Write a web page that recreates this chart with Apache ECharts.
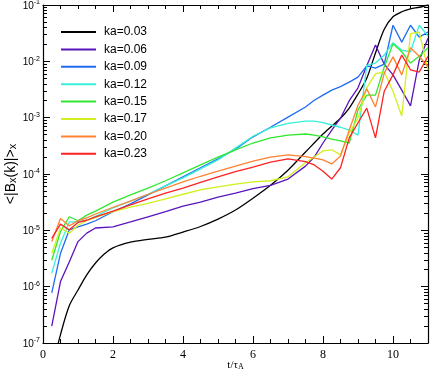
<!DOCTYPE html>
<html><head><meta charset="utf-8">
<script src="https://cdn.jsdelivr.net/npm/echarts@6/dist/echarts.min.js"></script>
<style>html,body{margin:0;padding:0;background:#fff}#c{width:436px;height:381px}</style>
</head><body><div id="c"></div>
<script>
// ---- data ----
const seriesNames = ['ka=0.03','ka=0.06','ka=0.09','ka=0.12','ka=0.15','ka=0.17','ka=0.20','ka=0.23'];
const seriesColors = ['#000000','#5a14bc','#1f6cf2','#36f0dc','#2fe82f','#d2f020','#ff8232','#ff2222'];

const tBlack = [0.25,0.5,0.75,1,1.25,1.5,1.75,2,2.5,3,3.5,4,4.5,5,5.5,6,6.5,7,7.5,8,8.5,8.75,9,9.25,9.5,9.75,10,10.25,10.5,10.75,11];
const ka003 = [3.4e-8,1.41e-7,4.57e-7,8.71e-7,1.62e-6,2.63e-6,3.80e-6,4.90e-6,6.17e-6,6.92e-6,7.59e-6,9.33e-6,1.17e-5,1.58e-5,2.29e-5,3.72e-5,6.31e-5,1.17e-4,2.45e-4,5.13e-4,9.77e-4,1.48e-3,2.63e-3,5.01e-3,1.41e-2,3.72e-2,6.17e-2,7.59e-2,8.51e-2,9.12e-2,1.0e-1];

const tGrid = [0.25,0.5,0.75,1,1.25,1.5,2,2.5,3,3.5,4,4.5,5,5.5,6,6.5,7,7.5,7.75,8,8.25,8.5,8.75,9,9.25,9.5,9.75,10,10.25,10.5,10.75,11];
const ka006 = [2.0e-7,1.23e-6,2.75e-6,6.31e-6,8.91e-6,1.10e-5,1.15e-5,1.41e-5,1.74e-5,2.14e-5,2.69e-5,3.16e-5,3.89e-5,4.57e-5,5.50e-5,6.31e-5,8.13e-5,1.38e-4,2.0e-4,3.55e-4,6.03e-4,9.77e-4,2.0e-3,3.39e-3,8.32e-3,1.95e-2,8.91e-3,5.75e-3,3.09e-3,1.62e-3,1.05e-2,2.57e-2];
const ka009 = [7.76e-7,3.89e-6,1.02e-5,1.15e-5,1.29e-5,1.48e-5,2.14e-5,2.95e-5,4.27e-5,6.17e-5,8.91e-5,1.29e-4,1.86e-4,2.75e-4,4.57e-4,6.76e-4,1.02e-3,1.55e-3,2.04e-3,2.51e-3,3.09e-3,3.55e-3,4.27e-3,5.25e-3,8.32e-3,7.59e-3,8.91e-3,4.37e-2,2.19e-2,4.37e-2,2.69e-2,3.31e-2];
const ka012 = [1.74e-6,5.89e-6,1.41e-5,1.41e-5,1.51e-5,1.78e-5,2.51e-5,3.31e-5,4.37e-5,6.17e-5,8.51e-5,1.23e-4,1.78e-4,2.88e-4,4.68e-4,6.61e-4,7.94e-4,8.71e-4,8.71e-4,8.13e-4,7.41e-4,6.76e-4,6.03e-4,4.90e-4,8.51e-3,9.33e-3,1.29e-2,2.14e-2,1.58e-2,1.48e-2,4.37e-2,2.82e-2];
const ka015 = [2.95e-6,9.55e-6,1.74e-5,1.48e-5,1.86e-5,2.19e-5,3.16e-5,4.27e-5,5.62e-5,7.59e-5,1.05e-4,1.45e-4,2.0e-4,2.69e-4,3.55e-4,4.37e-4,4.90e-4,5.13e-4,4.90e-4,4.57e-4,4.17e-4,3.89e-4,3.55e-4,1.38e-3,2.51e-3,2.51e-3,7.94e-3,2.04e-2,1.48e-2,9.33e-3,1.23e-2,1.74e-2];
const ka017 = [3.89e-6,1.10e-5,8.91e-6,1.23e-5,1.48e-5,1.70e-5,2.14e-5,2.57e-5,3.02e-5,3.63e-5,4.37e-5,5.25e-5,5.89e-5,6.61e-5,7.24e-5,7.59e-5,8.91e-5,1.58e-4,2.0e-4,2.57e-4,2.69e-4,2.19e-4,5.37e-4,9.77e-4,3.39e-3,6.03e-3,6.46e-3,2.95e-3,1.07e-3,3.09e-2,3.31e-2,7.08e-3];
const ka020 = [6.31e-6,1.62e-5,1.20e-5,1.48e-5,1.66e-5,1.95e-5,2.57e-5,3.31e-5,4.37e-5,5.62e-5,7.24e-5,9.12e-5,1.12e-4,1.38e-4,1.70e-4,2.0e-4,2.19e-4,2.04e-4,1.91e-4,1.78e-4,1.51e-4,2.09e-4,6.03e-4,1.66e-3,3.24e-3,1.55e-3,6.17e-3,1.20e-2,5.75e-3,1.74e-2,1.23e-2,7.94e-3];
const ka023 = [7.2e-6,1.29e-5,1.02e-5,1.38e-5,1.51e-5,1.74e-5,2.19e-5,2.82e-5,3.63e-5,4.57e-5,5.62e-5,7.08e-5,8.91e-5,1.10e-4,1.32e-4,1.62e-4,1.86e-4,1.66e-4,1.45e-4,1.12e-4,8.13e-5,1.29e-4,4.37e-4,8.13e-4,1.48e-3,4.37e-4,2.95e-3,5.75e-3,1.29e-2,7.08e-3,6.46e-3,1.23e-2];

const xMajorTicks = [0,2,4,6,8,10];
const xMinorTicks = [0.5,1,1.5,2.5,3,3.5,4.5,5,5.5,6.5,7,7.5,8.5,9,9.5,10.5];
const yDecades = [-7,-6,-5,-4,-3,-2,-1];

// ---- build ----
const yMajorTicks = yDecades.map(e => Math.pow(10, e));
const yMinorTicks = [];
yDecades.slice(0, -1).forEach(e => { for (let k = 2; k <= 9; k++) yMinorTicks.push(k * Math.pow(10, e)); });

const pairs = (ts, vs) => ts.map((t, i) => [t, vs[i]]);
const allData = [pairs(tBlack, ka003), pairs(tGrid, ka006), pairs(tGrid, ka009), pairs(tGrid, ka012),
                 pairs(tGrid, ka015), pairs(tGrid, ka017), pairs(tGrid, ka020), pairs(tGrid, ka023)];

const axisColor = '#000';
function xAx(pos, major) {
  return {
    type: 'value', min: 0, max: 11, position: pos,
    axisLine: { show: major, onZero: false, lineStyle: { color: axisColor, width: 1.2 } },
    axisTick: { show: true, inside: true, length: major ? 7 : 4, customValues: major ? xMajorTicks : xMinorTicks,
                lineStyle: { color: axisColor, width: 1 } },
    axisLabel: { show: major && pos === 'bottom', customValues: xMajorTicks, margin: 6,
                 fontFamily: 'Liberation Serif', fontSize: 12, color: '#000' },
    splitLine: { show: false },
    name: (major && pos === 'bottom') ? 't/τ{sub|A}' : '',
    nameLocation: 'middle', nameGap: 17, nameMoveOverlap: false,
    nameTextStyle: { fontFamily: 'Liberation Serif', fontSize: 11, color: '#000',
      rich: { sub: { fontFamily: 'Liberation Serif', fontSize: 8, color: '#000', verticalAlign: 'bottom', lineHeight: 8, padding: [7,0,0,0] } } }
  };
}
function yAx(pos, major) {
  return {
    type: 'log', logBase: 10, min: 1e-7, max: 1e-1, position: pos,
    axisLine: { show: major, onZero: false, lineStyle: { color: axisColor, width: 1.2 } },
    axisTick: { show: true, inside: true, length: major ? 7 : 4, customValues: major ? yMajorTicks : yMinorTicks,
                lineStyle: { color: axisColor, width: 1 } },
    axisLabel: { show: major && pos === 'left', customValues: yMajorTicks, margin: 3,
      formatter: v => '{b|10}{s|' + Math.round(Math.log10(v)) + '}',
      rich: {
        b: { fontFamily: 'Liberation Sans', fontSize: 10, color: '#000', lineHeight: 12, verticalAlign: 'bottom' },
        s: { fontFamily: 'Liberation Sans', fontSize: 7, color: '#000', lineHeight: 7, verticalAlign: 'top' }
      } },
    splitLine: { show: false },
    name: (major && pos === 'left') ? '<|B{sub|x}(k)|>{sub|x}' : '',
    nameLocation: 'middle', nameGap: 25, nameRotate: 90, nameMoveOverlap: false,
    nameTextStyle: { fontFamily: 'Liberation Sans', fontSize: 14, color: '#000',
      rich: { sub: { fontFamily: 'Liberation Sans', fontSize: 11, color: '#000', verticalAlign: 'bottom', lineHeight: 11, padding: [8,0,0,0] } } }
  };
}

const chart = echarts.init(document.getElementById('c'), null, { renderer: 'canvas' });
chart.setOption({
  animation: false,
  backgroundColor: '#fff',
  grid: { left: 43, right: 8, top: 5, bottom: 38, containLabel: false, outerBoundsMode: 'none' },
  xAxis: [xAx('bottom', true), xAx('bottom', false), xAx('top', true), xAx('top', false)],
  yAxis: [yAx('left', true), yAx('left', false), yAx('right', true), yAx('right', false)],
  legend: {
    show: true, orient: 'vertical', left: 56, top: 18,
    icon: 'rect', itemWidth: 35, itemHeight: 2, itemGap: -0.6,
    data: seriesNames,
    textStyle: { fontFamily: 'Liberation Sans', fontSize: 12, color: '#000', lineHeight: 14, padding: [0,0,4,3] }
  },
  series: seriesNames.map((n, i) => ({
    name: n, type: 'line', xAxisIndex: 0, yAxisIndex: 0,
    data: allData[i], showSymbol: false, symbol: 'none',
    smooth: i === 0 ? 0.3 : false,
    lineStyle: { color: seriesColors[i], width: 1.3 },
    itemStyle: { color: seriesColors[i] },
    clip: true
  }))
});
</script>
</body></html>
